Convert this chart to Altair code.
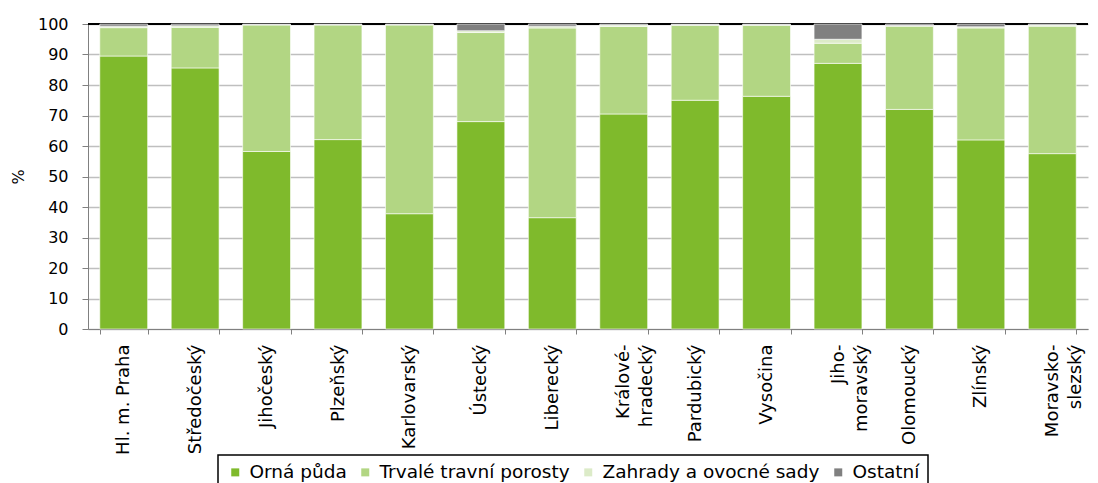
import altair as alt
import pandas as pd

regions = ["Hl. m. Praha", "Středočeský", "Jihočeský", "Plzeňský", "Karlovarský",
           "Ústecký", "Liberecký", "Králové-|hradecký", "Pardubický", "Vysočina",
           "Jiho-|moravský", "Olomoucký", "Zlínský", "Moravsko-|slezský"]

series = ["Orná půda", "Trvalé travní porosty", "Zahrady a ovocné sady", "Ostatní"]
colors = ["#7fba2c", "#b2d683", "#dcebc8", "#808080"]

orna = [89.5, 85.6, 58.2, 62.1, 37.8, 68.0, 36.5, 70.5, 75.0, 76.3, 87.1, 72.0, 62.0, 57.5]
trvale = [9.3, 13.3, 41.5, 37.6, 61.9, 29.2, 62.2, 28.7, 24.6, 23.3, 6.6, 27.3, 36.7, 41.8]
zahrady = [0.5, 0.5, 0.1, 0.1, 0.1, 0.6, 0.6, 0.5, 0.2, 0.2, 1.3, 0.2, 0.4, 0.4]
ostatni = [0.7, 0.6, 0.2, 0.2, 0.2, 2.2, 0.7, 0.3, 0.2, 0.2, 5.0, 0.5, 0.9, 0.3]

y_ticks = [0, 10, 20, 30, 40, 50, 60, 70, 80, 90, 100]

rows = []
for i, r in enumerate(regions):
    for j, (s, vals) in enumerate(zip(series, [orna, trvale, zahrady, ostatni])):
        rows.append({"kraj": r, "druh": s, "podil": vals[i], "poradi": j})
df = pd.DataFrame(rows)

y_axis = alt.Axis(values=y_ticks, title="%", titleFontSize=16, titleFontWeight="normal",
                  titleColor="black", labelFontSize=16, labelColor="black", labelOverlap=False,
                  tickColor="#808080", tickSize=6, domainColor="#808080",
                  gridColor="#bfbfbf", gridWidth=1.5, labelPadding=14, titlePadding=11)
y_scale = alt.Scale(domain=[0, 100], nice=False)

bars = alt.Chart(df).mark_bar(stroke="white", strokeWidth=0.6).encode(
    x=alt.X("kraj:N", sort=regions,
            scale=alt.Scale(paddingInner=0.33, paddingOuter=0.165),
            axis=alt.Axis(title=None, labelAngle=270, labelAlign="right", labelBaseline="middle",
                          labelFontSize=18, labelColor="black", labelPadding=10,
                          tickSize=5, tickColor="#808080", domainColor="#808080",
                          tickBand="extent", labelExpr="split(datum.label, '|')",
                          labelLineHeight=23, labelLimit=200)),
    y=alt.Y("podil:Q", stack="zero", scale=y_scale, axis=y_axis),
    color=alt.Color("druh:N", sort=series,
                    scale=alt.Scale(domain=series, range=colors),
                    legend=alt.Legend(orient="none", legendX=130, legendY=431, direction="horizontal",
                                      columns=4, title=None, symbolType="square", symbolSize=64,
                                      symbolStrokeWidth=0, labelFontSize=18.5, labelOffset=5,
                                      columnPadding=9, padding=8, strokeColor="black",
                                      labelColor="black", labelLimit=300)),
    order=alt.Order("poradi:Q", sort="ascending"),
)

top_rule = alt.Chart(pd.DataFrame({"podil": [100]})).mark_rule(color="black", strokeWidth=2).encode(
    y=alt.Y("podil:Q", scale=y_scale, axis=y_axis)
)

chart = alt.layer(top_rule, bars).properties(
    width=1000, height=305,
    autosize=alt.AutoSizeParams(type="none"),
    padding={"left": 80, "top": 16, "right": 2, "bottom": 154},
).configure(font="DejaVu Sans").configure_view(stroke=None).configure_legend(strokeWidth=1.5)

chart.save("out.html", embed_options={"renderer": "svg", "actions": False})
